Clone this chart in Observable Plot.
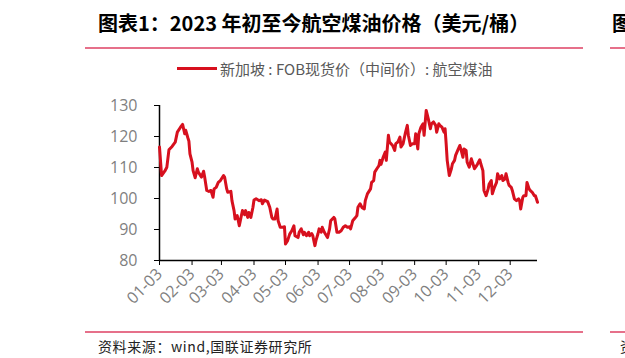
<!DOCTYPE html>
<html>
<head>
<meta charset="utf-8">
<script src="https://cdn.jsdelivr.net/npm/d3@7"></script>
<script src="https://cdn.jsdelivr.net/npm/@observablehq/plot@0.6"></script>
<style>
  html, body { margin: 0; padding: 0; background: #fff; }
  #wrap { position: relative; width: 625px; height: 358px; overflow: hidden; background: #fff; font-family: "Noto Sans CJK SC", sans-serif; }
  .abs { position: absolute; white-space: nowrap; }
  .title { font-size: 20px; font-weight: bold; color: #000; line-height: 20px; }
  .sep { height: 2px; background: #e6708a; }
  #chart { position: absolute; left: 0; top: 90px; }
</style>
</head>
<body>
<div id="wrap">
  <div class="abs title" style="left:98px; top:13px;">图表1：2023 年初至今航空煤油价格（美元/桶）</div>
  <div class="abs title" style="left:612px; top:13px;">图表2</div>
  <div class="abs sep" style="left:85px; top:47px; width:498px;"></div>
  <div class="abs sep" style="left:610px; top:47px; width:20px;"></div>

  <div class="abs" style="left:177px; top:67px; width:40px; height:3px; background:#d7101e;"></div>
  <div class="abs" style="left:220px; top:60px; font-size:15px; line-height:18px; color:#595959;">新加坡 : FOB现货价（中间价）: 航空煤油</div>

  <div id="chart"></div>

  <div class="abs sep" style="left:85px; top:331px; width:498px;"></div>
  <div class="abs sep" style="left:610px; top:331px; width:20px;"></div>
  <div class="abs" style="left:98px; top:338px; font-size:14px; line-height:16px; color:#222; letter-spacing:0.6px;">资料来源：wind,国联证券研究所</div>
  <div class="abs" style="left:620px; top:338px; font-size:14px; line-height:16px; color:#222;">资料</div>
</div>
<script>
const dates = [
"2023-01-03","2023-01-05","2023-01-08","2023-01-10","2023-01-12","2023-01-15","2023-01-18","2023-01-20","2023-01-23","2023-01-25",
"2023-01-27","2023-01-28","2023-01-30","2023-01-31","2023-02-01","2023-02-03","2023-02-04","2023-02-06","2023-02-08","2023-02-09",
"2023-02-11","2023-02-12","2023-02-14","2023-02-15","2023-02-17","2023-02-19","2023-02-21","2023-02-23","2023-02-24","2023-02-26",
"2023-02-28","2023-03-02","2023-03-05","2023-03-06","2023-03-08","2023-03-09","2023-03-12","2023-03-13","2023-03-15","2023-03-16",
"2023-03-18","2023-03-20","2023-03-22","2023-03-23","2023-03-25","2023-03-26","2023-03-28","2023-03-29","2023-03-31","2023-04-02",
"2023-04-03","2023-04-05","2023-04-08","2023-04-10","2023-04-11","2023-04-13","2023-04-16","2023-04-18","2023-04-20","2023-04-21",
"2023-04-23","2023-04-25","2023-04-26","2023-04-28","2023-04-30","2023-05-02","2023-05-03","2023-05-05","2023-05-07","2023-05-09",
"2023-05-11","2023-05-12","2023-05-15","2023-05-16","2023-05-18","2023-05-20","2023-05-21","2023-05-23","2023-05-25","2023-05-26",
"2023-05-28","2023-05-29","2023-05-31","2023-06-01","2023-06-03","2023-06-04","2023-06-06","2023-06-07","2023-06-09","2023-06-11",
"2023-06-12","2023-06-14","2023-06-15","2023-06-18","2023-06-19","2023-06-21","2023-06-23","2023-06-25","2023-06-27","2023-06-29",
"2023-07-01","2023-07-03","2023-07-04","2023-07-06","2023-07-08","2023-07-10","2023-07-11","2023-07-13","2023-07-15","2023-07-17",
"2023-07-18","2023-07-20","2023-07-23","2023-07-24","2023-07-26","2023-07-27","2023-07-29","2023-07-31","2023-08-01","2023-08-02",
"2023-08-04","2023-08-06","2023-08-07","2023-08-09","2023-08-10","2023-08-13","2023-08-15","2023-08-16","2023-08-18","2023-08-20",
"2023-08-21","2023-08-23","2023-08-25","2023-08-27","2023-08-28","2023-08-30","2023-09-01","2023-09-03","2023-09-04","2023-09-06",
"2023-09-07","2023-09-09","2023-09-11","2023-09-12","2023-09-14","2023-09-16","2023-09-18","2023-09-19","2023-09-21","2023-09-23",
"2023-09-24","2023-09-26","2023-09-27","2023-09-29","2023-10-01","2023-10-02","2023-10-03","2023-10-04","2023-10-06","2023-10-08",
"2023-10-09","2023-10-11","2023-10-12","2023-10-14","2023-10-16","2023-10-17","2023-10-19","2023-10-20","2023-10-22","2023-10-23",
"2023-10-25","2023-10-27","2023-10-28","2023-10-30","2023-11-01","2023-11-02","2023-11-04","2023-11-05","2023-11-07","2023-11-08",
"2023-11-10","2023-11-12","2023-11-13","2023-11-15","2023-11-16","2023-11-18","2023-11-20","2023-11-21","2023-11-23","2023-11-25",
"2023-11-26","2023-11-28","2023-11-29","2023-12-01","2023-12-02","2023-12-04","2023-12-05","2023-12-07","2023-12-09","2023-12-11",
"2023-12-12","2023-12-13","2023-12-15","2023-12-16","2023-12-18","2023-12-19","2023-12-21","2023-12-22","2023-12-24","2023-12-26",
"2023-12-27","2023-12-29"
];
const prices = [
116.6,107.4,108.8,110.1,115.7,116.8,118.2,121.4,123.0,123.9,
120.9,122.0,119.6,118.5,114.4,111.7,109.0,106.7,109.6,108.5,
107.4,106.9,108.8,106.9,102.6,102.3,102.6,100.4,103.1,103.6,
105.2,105.8,107.4,106.9,103.1,102.0,102.3,99.3,96.1,93.4,
94.5,91.2,94.5,96.1,94.8,96.1,93.9,95.5,93.9,97.2,
99.5,99.9,99.3,99.6,98.3,99.5,99.0,97.2,93.9,93.4,
93.4,96.6,92.8,90.7,90.7,90.9,85.3,86.4,88.5,89.6,
91.2,88.0,87.4,89.1,90.2,88.3,89.1,88.0,89.1,88.0,
88.7,88.0,84.8,86.4,88.7,90.2,89.1,90.7,89.1,88.0,
87.4,90.2,92.8,93.9,93.4,89.1,89.1,89.6,90.7,91.2,
90.7,90.9,90.2,92.8,93.6,94.5,97.2,98.3,97.0,96.6,
99.3,101.5,103.1,105.2,105.8,108.5,109.6,110.6,112.3,111.0,
113.3,115.0,112.3,120.4,118.2,117.1,115.5,117.7,118.2,119.8,
116.6,117.7,120.9,123.6,120.4,117.1,117.7,117.7,120.9,116.0,
120.9,123.0,124.1,120.4,128.4,125.7,122.5,124.1,124.7,123.6,
121.4,124.1,123.6,123.0,121.4,122.5,117.7,112.3,107.4,109.6,
111.2,112.3,113.9,115.5,117.1,116.0,113.3,116.0,115.5,111.7,
110.1,112.8,111.7,109.6,110.6,111.2,112.5,111.2,109.0,102.6,
100.9,103.1,104.7,105.8,101.5,103.6,105.2,108.0,106.3,107.4,
105.8,106.3,108.0,105.2,104.2,103.6,102.6,99.9,99.3,99.9,
99.3,96.6,100.4,100.9,100.9,105.2,103.1,102.6,102.0,100.9,
100.9,98.8
];
const xTicks = ["2023-01-03","2023-02-03","2023-03-03","2023-04-03","2023-05-03","2023-06-03",
                "2023-07-03","2023-08-03","2023-09-03","2023-10-03","2023-11-03","2023-12-03"];
const yTicks = [80, 90, 100, 110, 120, 130];
const xDomain = ["2023-01-03", "2023-12-29"];

const data = dates.map((d, i) => ({date: new Date(d), price: prices[i]}));
const xTickDates = xTicks.map(d => new Date(d));

const chart = Plot.plot({
  width: 625,
  height: 230,
  marginLeft: 159,
  marginRight: 88,
  marginTop: 15,
  marginBottom: 60,
  style: {fontFamily: "'Open Sans', sans-serif", background: "transparent", overflow: "visible"},
  x: {type: "utc", domain: xDomain.map(d => new Date(d))},
  y: {domain: [80, 130]},
  marks: [
    Plot.axisY({ticks: yTicks, tickSize: 5, tickPadding: 17, fontSize: 16, fill: "#7f7f7f", stroke: "#000", label: null}),
    Plot.axisX({ticks: xTickDates, tickFormat: d3.utcFormat("%m-%d"), tickRotate: -45, tickSize: 5, tickPadding: 6,
                fontSize: 16, fill: "#7f7f7f", stroke: "#000", label: null}),
    Plot.ruleX([new Date(xDomain[0])], {stroke: "#000", strokeWidth: 1.5}),
    Plot.ruleY([80], {stroke: "#000", strokeWidth: 1.5}),
    Plot.line(data, {x: "date", y: "price", stroke: "#d7101e", strokeWidth: 3, strokeLinejoin: "round"})
  ]
});
document.getElementById("chart").appendChild(chart);
</script>
</body>
</html>
